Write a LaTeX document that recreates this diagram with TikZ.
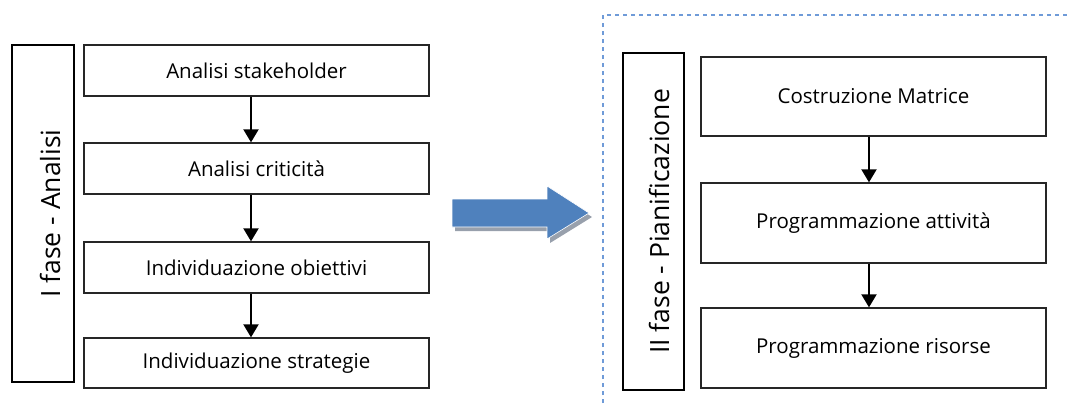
\documentclass[tikz,border=0pt]{standalone}
\usepackage{fontspec}
\setmainfont{Open Sans}
\usetikzlibrary{arrows.meta}
\definecolor{phaseblue}{HTML}{4F81BD}
\definecolor{framedash}{HTML}{6F9BD8}
\definecolor{shadowgray}{HTML}{98A0AC}

\begin{document}
\begin{tikzpicture}[x=1pt,y=-1pt,
        stepbox/.style={draw=black!85,line width=1.3pt,minimum width=345pt,inner sep=0pt,font=\fontsize{20.5}{24}\selectfont},
        phasebox/.style={draw=black,line width=2pt,minimum width=62pt,minimum height=337pt,inner sep=0pt},
        phasetext/.style={rotate=90,font=\fontsize{26.5}{30}\selectfont},
        flow/.style={-{Triangle[length=13pt,width=15pt]},line width=2pt,black}]
    \useasboundingbox (0,0) rectangle (1067,408);
    % frame of the second phase
    \draw [framedash,line width=1.2pt,dash pattern=on 4pt off 4pt] (603,403) -- (603,15) -- (1067,15);
    % I fase
    \node [phasebox] (lbox) at (43,213.5) {};
    \node [phasetext] (ltext) at (50,213.5) {I fase - Analisi};
    \node [stepbox,minimum height=51pt] (s1) at (256.5,70.5) {Analisi stakeholder};
    \node [stepbox,minimum height=51pt] (s2) at (256.5,168.5) {Analisi criticità};
    \node [stepbox,minimum height=51pt] (s3) at (256.5,267.5) {Individuazione obiettivi};
    \node [stepbox,minimum height=50pt] (s4) at (256.5,363) {Individuazione strategie};
    \foreach \a/\b in {s1/s2,s2/s3,s3/s4} {
        \draw [flow] ([xshift=-5.5pt]\a.south) -- ([xshift=-5.5pt]\b.north);
    }
    % big arrow between the phases
    \fill [shadowgray] (455,203) -- (550,203) -- (550,190) -- (592,217) -- (550,243) -- (550,231) -- (455,231) -- cycle;
    \filldraw [phaseblue,draw=white,line width=0.6pt] (452,199) -- (547,199) -- (547,186) -- (589,213) -- (547,239) -- (547,227) -- (452,227) -- cycle;
    % II fase
    \node [phasebox,minimum width=61pt] (rbox) at (653.5,221.5) {};
    \node [phasetext] (rtext) at (659,221.5) {II fase - Pianificazione};
    \node [stepbox,minimum height=79pt] (r1) at (873.5,96.5) {Costruzione Matrice};
    \node [stepbox,minimum height=80pt] (r2) at (873.5,223) {Programmazione attività};
    \node [stepbox,minimum height=80pt] (r3) at (873.5,348) {Programmazione risorse};
    \foreach \a/\b in {r1/r2,r2/r3} {
        \draw [flow] ([xshift=-4.5pt]\a.south) -- ([xshift=-4.5pt]\b.north);
    }
\end{tikzpicture}
\end{document}
